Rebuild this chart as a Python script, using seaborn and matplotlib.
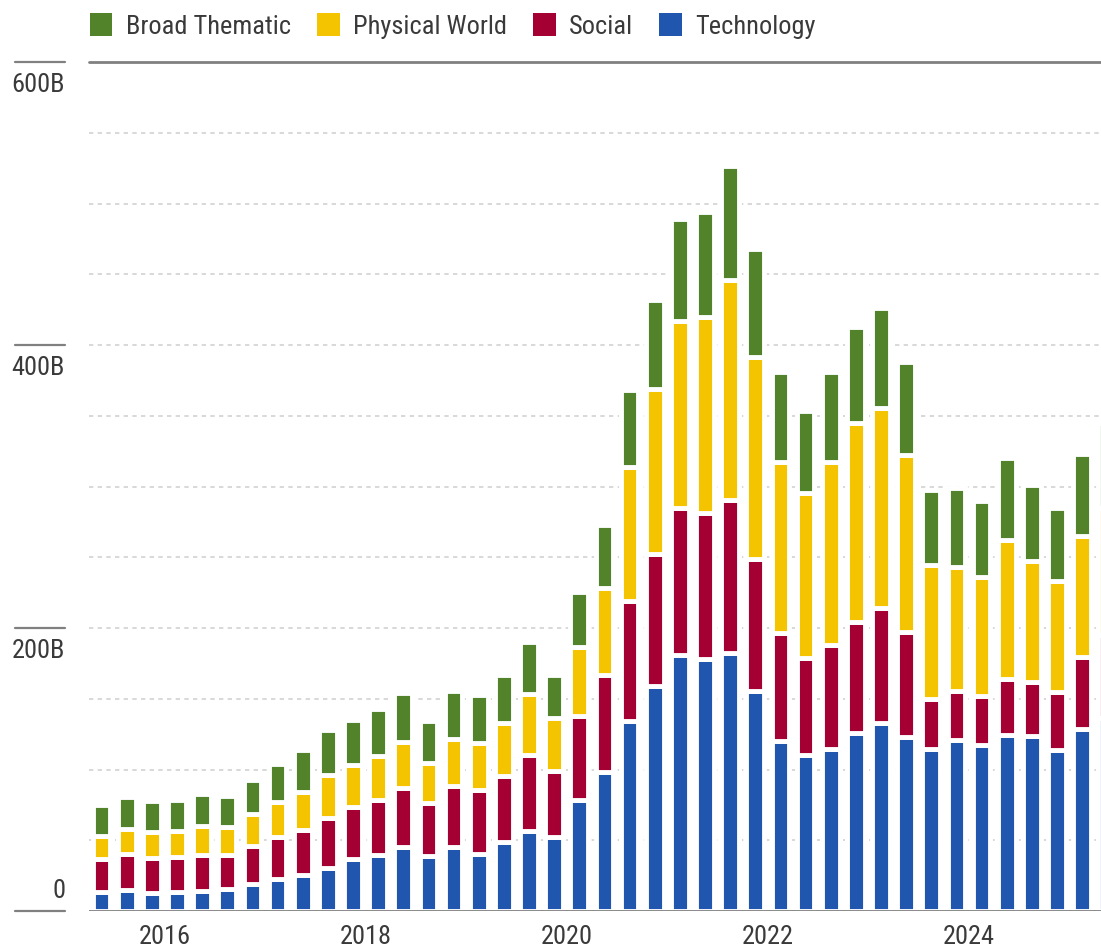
import numpy as np
import pandas as pd
import seaborn as sns
import matplotlib.pyplot as plt
from matplotlib.patches import Patch
import matplotlib.transforms as mtransforms

# quarterly assets (billions), Q2 2015 .. Q2 2025
quarters = [f"{y}Q{q}" for y in range(2015, 2026) for q in range(1, 5)][1:42]

technology = [13.4, 14.7, 12.9, 13.3, 14.4, 15.3, 19.1, 22.6, 25.2, 30.4,
              36.5, 39.4, 45.5, 39.1, 45.0, 40.3, 48.6, 56.4, 52.6, 78.1,
              97.9, 134.0, 159.1, 180.7, 178.0, 182.1, 155.6, 119.9, 110.3, 114.8,
              125.6, 133.0, 122.9, 114.6, 121.2, 117.3, 124.6, 124.0, 114.0, 128.7,
              136.5]
social = [23.4, 25.6, 24.8, 24.7, 25.5, 24.1, 26.6, 29.5, 32.0, 35.6,
          37.0, 38.9, 41.7, 37.5, 43.4, 45.4, 47.1, 53.7, 46.2, 59.6,
          68.7, 85.4, 93.4, 104.0, 103.6, 108.6, 93.2, 76.3, 68.7, 73.1,
          78.9, 81.0, 74.2, 35.4, 34.4, 34.5, 39.7, 38.1, 41.1, 50.5,
          58.5]
physical_world = [16.5, 17.7, 17.9, 18.6, 19.9, 20.3, 22.7, 24.9, 27.2, 30.2,
                  29.9, 31.1, 32.4, 28.2, 33.0, 32.9, 37.1, 43.2, 37.7, 48.8,
                  61.6, 94.7, 116.4, 132.6, 137.9, 154.9, 142.6, 121.3, 116.1, 129.6,
                  140.2, 141.2, 125.5, 94.4, 87.7, 84.2, 98.1, 85.1, 78.0, 86.1,
                  89.6]
broad_thematic = [21.9, 22.6, 22.2, 21.9, 23.2, 21.9, 24.5, 27.0, 29.3, 31.8,
                  31.7, 33.3, 34.6, 29.8, 33.8, 34.0, 34.2, 36.8, 30.2, 39.2,
                  44.3, 54.2, 63.0, 71.6, 74.2, 80.8, 76.2, 63.2, 58.5, 63.6,
                  67.9, 70.7, 65.6, 53.4, 55.3, 53.6, 57.6, 53.9, 52.0, 58.0,
                  60.4]

series_names = ["Technology", "Social", "Physical World", "Broad Thematic"]
series_colors = ["#2156AF", "#A50034", "#F5C400", "#52832A"]
year_labels = ["2016", "2018", "2020", "2022", "2024"]
y_labels = ["0", "200B", "400B", "600B"]

df = pd.DataFrame({"quarter": quarters, "Technology": technology, "Social": social,
                   "Physical World": physical_world, "Broad Thematic": broad_thematic})

sns.set_style("white")
plt.rcParams["font.family"] = ["Roboto Condensed", "DejaVu Sans"]
text_col = "#3a3a3a"
fsize = 19

fig = plt.figure(figsize=(11.01, 9.51), dpi=100)
ax = fig.add_axes([89 / 1101, 40 / 951, 1012 / 1101, 849 / 951])

bottom = np.zeros(len(df))
for name, col in zip(series_names, series_colors):
    sns.barplot(data=df, x="quarter", y=name, bottom=bottom, color=col, saturation=1,
                width=0.7, edgecolor="white", linewidth=3.5, ax=ax, zorder=3)
    bottom = bottom + df[name].to_numpy()

ax.set_xlim(-0.5, 39.75)
ax.set_ylim(0, 600)
ax.set_xlabel("")
ax.set_ylabel("")
sns.despine(ax=ax, left=True, bottom=True, top=True, right=True)

# dotted gridlines every 50B
ax.set_yticks(np.arange(0, 601, 50))
ax.grid(axis="y", color="#d2d2d2", linewidth=1.2, linestyle=(0, (2.6, 2.6)), zorder=0)
ax.grid(axis="x", visible=False)
ax.tick_params(axis="y", length=0, labelleft=False)
ax.axhline(0, color="#808080", lw=2, zorder=5)
ax.axhline(600, color="#808080", lw=2, zorder=5, clip_on=False)

# year ticks (Jan 1 sits between Q4 and Q1 bars)
ax.set_xticks([2.5 + 8 * i for i in range(len(year_labels))])
ax.set_xticklabels(year_labels, fontsize=fsize, color=text_col)
ax.tick_params(axis="x", length=0, pad=10)

# y labels with short rule above
blend = mtransforms.blended_transform_factory(ax.transAxes, ax.transData)
for lab in y_labels:
    v = 0 if lab == "0" else float(lab[:-1])
    ax.plot([-0.0731, -0.0237], [v, v], transform=blend, clip_on=False,
            color="#808080", lw=1.6)
    if v == 0:
        tr = mtransforms.offset_copy(blend, fig=fig, y=6, units="points")
        ax.text(-0.0237, v, lab, transform=tr, ha="right", va="bottom",
                fontsize=fsize, color=text_col)
    else:
        tr = mtransforms.offset_copy(blend, fig=fig, y=-8, units="points")
        ax.text(-0.0237, v, lab, transform=tr, ha="right", va="top",
                fontsize=fsize, color=text_col)

handles = [Patch(facecolor=c, edgecolor="none") for c in series_colors[::-1]]
fig.legend(handles, series_names[::-1], loc="upper left", bbox_to_anchor=(90 / 1101, 0.986),
           ncol=4, frameon=False, fontsize=fsize, handlelength=0.85, handleheight=0.95,
           handletextpad=0.5, columnspacing=1.0, borderpad=0, borderaxespad=0,
           labelcolor=text_col)

fig.savefig("out.png", dpi=100)
